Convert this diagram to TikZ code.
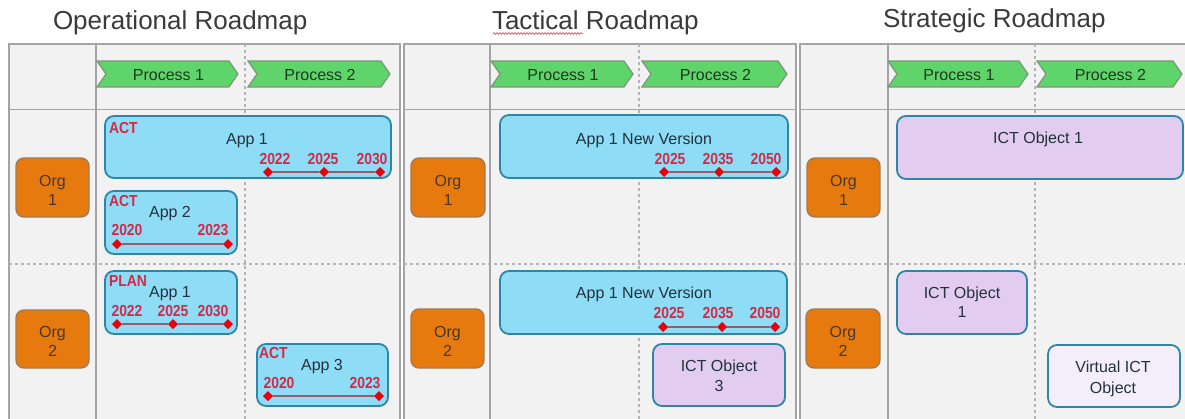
\documentclass[tikz,border=0pt]{standalone}
\usepackage{fontspec}
\setmainfont{Liberation Sans}
\newfontfamily\redfont[FakeStretch=0.87]{Liberation Sans Bold}
\usetikzlibrary{fit,shapes.geometric,decorations.pathmorphing}
\definecolor{panelbg}{HTML}{F2F2F2}
\definecolor{frame}{HTML}{A4A4A4}
\definecolor{dashc}{HTML}{B4B4B4}
\definecolor{appfill}{HTML}{8EDCF6}
\definecolor{boxline}{HTML}{2F85A6}
\definecolor{lavfill}{HTML}{E2CCF0}
\definecolor{virtfill}{HTML}{F4EEFA}
\definecolor{orgfill}{HTML}{E67A0E}
\definecolor{orgline}{HTML}{A27A55}
\definecolor{chevfill}{HTML}{5ED46B}
\definecolor{chevline}{HTML}{7A967A}
\definecolor{redtxt}{HTML}{D42A48}
\definecolor{diared}{HTML}{E8000C}
\definecolor{tlline}{HTML}{9A5A66}
\definecolor{titletxt}{HTML}{3A3A3A}
\definecolor{darktxt}{HTML}{22323C}
\definecolor{orgtxt}{HTML}{4A3626}
\definecolor{proctxt}{HTML}{1E3A1E}
\definecolor{squig}{HTML}{E06070}
\tikzset{
  every node/.style={inner sep=0pt, outer sep=0pt},
  panel/.style={fill=panelbg, draw=frame, line width=1.8pt},
  coldiv/.style={draw=frame, line width=1.3pt},
  dashdiv/.style={draw=dashc, line width=1.1pt, dash pattern=on 3pt off 3pt},
  appbox/.style={draw=boxline, line width=1.8pt, fill=appfill, rounded corners=9pt},
  lavbox/.style={draw=boxline, line width=1.8pt, fill=lavfill, rounded corners=9pt},
  virtbox/.style={draw=boxline, line width=1.8pt, fill=virtfill, rounded corners=9pt},
  orgbox/.style={draw=orgline, line width=1.4pt, fill=orgfill, rounded corners=8pt},
  chev/.style={draw=chevline, line width=1.2pt, fill=chevfill},
  proctext/.style={font=\fontsize{16}{18}\selectfont, text=proctxt, anchor=base},
  boxtext/.style={font=\fontsize{16}{18}\selectfont, text=darktxt, anchor=base},
  orgtext/.style={font=\fontsize{16}{18}\selectfont, text=orgtxt, anchor=base},
  redtext/.style={font=\redfont\fontsize{16}{18}\selectfont, text=redtxt, anchor=base},
  statustext/.style={font=\redfont\fontsize{16}{18}\selectfont, text=redtxt, anchor=base west},
  titletext/.style={font=\fontsize{26}{30}\selectfont, text=titletxt, anchor=base west},
  dia/.style={diamond, fill=diared, minimum size=10pt},
  tl/.style={draw=tlline, line width=1.6pt},
}
\newcommand\chevron[4]{%
  \draw[chev] (#2,61) -- ({#3-9},61) -- (#3,74) -- ({#3-9},87) -- (#2,87) -- ({#2+9},74) -- cycle;
  \node[proctext] (#1) at ({(#2+#3)/2+1},80.5) {#4};}
\newcommand\orgnode[6]{% name, x0, y0, x1, y1, number
  \node[orgbox, fit={(#2,#3)(#4,#5)}] (#1) {};
  \node[orgtext] (#1a) at ({(#2+#4)/2},{(#3+#5)/2-1.5}) {Org};
  \node[orgtext] (#1b) at ({(#2+#4)/2},{(#3+#5)/2+17.5}) {#6};}
\begin{document}
\begin{tikzpicture}[x=1pt,y=-1pt]
\useasboundingbox (0,0) rectangle (1185,418);
\fill[white] (0,0) rectangle (1185,418);
% titles
\node[titletext] (t1) at (53,29) {Operational Roadmap};
\node[titletext] (t2) at (492,29) {Tactical Roadmap};
\node[titletext] (t3) at (883,27) {Strategic Roadmap};
\draw[squig, line width=0.8pt, decorate, decoration={snake, amplitude=0.8pt, segment length=3pt}] (493,33.5) -- (583,33.5);
% panels
\draw[panel] (9,44) rectangle (400,425);
\draw[panel] (404,44) rectangle (796,425);
\draw[panel] (800,44) rectangle (1195,425);
% grid panel 1
\draw[coldiv] (96,44) -- (96,425);
\draw[coldiv] (9,109.5) -- (400,109.5);
\draw[dashdiv] (245,44) -- (245,425);
\draw[dashdiv] (9,264) -- (400,264);
% grid panel 2
\draw[coldiv] (490,44) -- (490,425);
\draw[coldiv] (404,109.5) -- (796,109.5);
\draw[dashdiv] (639,44) -- (639,425);
\draw[dashdiv] (404,264) -- (796,264);
% grid panel 3
\draw[coldiv] (888,44) -- (888,425);
\draw[coldiv] (800,109.5) -- (1195,109.5);
\draw[dashdiv] (1035,44) -- (1035,425);
\draw[dashdiv] (800,264) -- (1195,264);
% process chevrons
\chevron{op1}{97}{238}{Process 1}
\chevron{op2}{248}{390}{Process 2}
\chevron{tp1}{491}{633}{Process 1}
\chevron{tp2}{642}{787}{Process 2}
\chevron{sp1}{888}{1028}{Process 1}
\chevron{sp2}{1037}{1182}{Process 2}
% orgs
\orgnode{oo1}{16}{158}{89}{217}{1}
\orgnode{oo2}{16}{310}{89}{368}{2}
\orgnode{to1}{411}{158}{485}{217}{1}
\orgnode{to2}{411}{309}{484}{368}{2}
\orgnode{so1}{807}{158}{880}{217}{1}
\orgnode{so2}{806}{309}{880}{368}{2}
% ===== Operational =====
\node[appbox, fit={(105,116)(391,178)}] (opA1) {};
\node[statustext] (opA1s) at (109,133) {ACT};
\node[boxtext] (opA1t) at (247,144) {App 1};
\node[redtext] (opA1y1) at (275,164) {2022};
\node[redtext] (opA1y2) at (323,164) {2025};
\node[redtext] (opA1y3) at (372,164) {2030};
\node[dia] (opA1d1) at (268,172) {};
\node[dia] (opA1d2) at (324,172) {};
\node[dia] (opA1d3) at (380,172) {};
\draw[tl] (opA1d1) -- (opA1d2);
\draw[tl] (opA1d2) -- (opA1d3);
\node[appbox, fit={(105,191)(237,254)}] (opA2) {};
\node[statustext] (opA2s) at (109,206) {ACT};
\node[boxtext] (opA2t) at (170,217) {App 2};
\node[redtext] (opA2y1) at (127,235) {2020};
\node[redtext] (opA2y2) at (213,235) {2023};
\node[dia] (opA2d1) at (117,244) {};
\node[dia] (opA2d2) at (228,244) {};
\draw[tl] (opA2d1) -- (opA2d2);
\node[appbox, fit={(105,271)(237,334)}] (opP1) {};
\node[statustext] (opP1s) at (109,286) {PLAN};
\node[boxtext] (opP1t) at (170,297) {App 1};
\node[redtext] (opP1y1) at (127,316) {2022};
\node[redtext] (opP1y2) at (173,316) {2025};
\node[redtext] (opP1y3) at (213,316) {2030};
\node[dia] (opP1d1) at (117,324) {};
\node[dia] (opP1d2) at (173,324) {};
\node[dia] (opP1d3) at (228,324) {};
\draw[tl] (opP1d1) -- (opP1d2);
\draw[tl] (opP1d2) -- (opP1d3);
\node[appbox, fit={(257,344)(388,406)}] (opA3) {};
\node[statustext] (opA3s) at (259,358) {ACT};
\node[boxtext] (opA3t) at (322,370) {App 3};
\node[redtext] (opA3y1) at (279,388) {2020};
\node[redtext] (opA3y2) at (365,388) {2023};
\node[dia] (opA3d1) at (268,396) {};
\node[dia] (opA3d2) at (379,396) {};
\draw[tl] (opA3d1) -- (opA3d2);
% ===== Tactical =====
\node[appbox, fit={(500,115)(788,178)}] (tA1) {};
\node[boxtext] (tA1t) at (644,144) {App 1 New Version};
\node[redtext] (tA1y1) at (670,164) {2025};
\node[redtext] (tA1y2) at (718,164) {2035};
\node[redtext] (tA1y3) at (766,164) {2050};
\node[dia] (tA1d1) at (664,172) {};
\node[dia] (tA1d2) at (719,172) {};
\node[dia] (tA1d3) at (776,172) {};
\draw[tl] (tA1d1) -- (tA1d2);
\draw[tl] (tA1d2) -- (tA1d3);
\node[appbox, fit={(500,271)(787,334)}] (tA2) {};
\node[boxtext] (tA2t) at (644,298) {App 1 New Version};
\node[redtext] (tA2y1) at (669,318) {2025};
\node[redtext] (tA2y2) at (718,318) {2035};
\node[redtext] (tA2y3) at (765,318) {2050};
\node[dia] (tA2d1) at (663,327) {};
\node[dia] (tA2d2) at (722,327) {};
\node[dia] (tA2d3) at (775,327) {};
\draw[tl] (tA2d1) -- (tA2d2);
\draw[tl] (tA2d2) -- (tA2d3);
\node[lavbox, fit={(653,344)(785,406)}] (tI3) {};
\node[boxtext] (tI3a) at (719,371) {ICT Object};
\node[boxtext] (tI3b) at (719,391) {3};
% ===== Strategic =====
\node[lavbox, fit={(897,116)(1183,179)}] (sI1) {};
\node[boxtext] (sI1t) at (1038,143) {ICT Object 1};
\node[lavbox, fit={(897,271)(1027,334)}] (sI2) {};
\node[boxtext] (sI2a) at (962,298) {ICT Object};
\node[boxtext] (sI2b) at (962,317) {1};
\node[virtbox, fit={(1048,345)(1180,407)}] (sV) {};
\node[boxtext] (sVa) at (1113,372) {Virtual ICT};
\node[boxtext] (sVb) at (1113,393) {Object};
\end{tikzpicture}
\end{document}
